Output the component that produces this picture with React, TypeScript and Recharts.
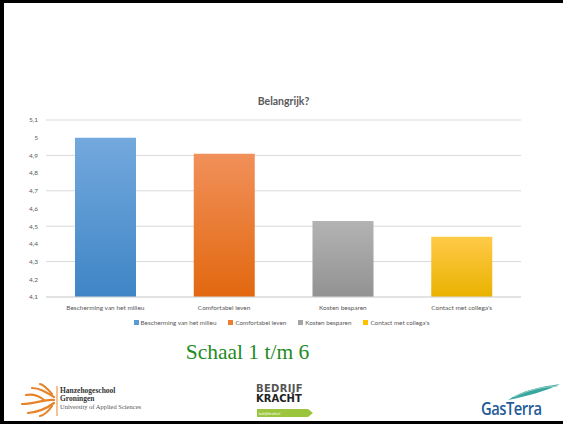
import React from 'react';
import { BarChart, Bar, XAxis, YAxis, CartesianGrid, Legend, Cell } from 'recharts';

// Chart data
const categories = ['Bescherming van het milieu', 'Comfortabel leven', 'Kosten besparen', "Contact met collega's"];
const scores = [5.0, 4.91, 4.53, 4.44];
const yTicks = [4.1, 4.2, 4.3, 4.4, 4.5, 4.6, 4.7, 4.8, 4.9, 5.0, 5.1];

// Office palette: legend swatch, gradient top, gradient bottom
const swatch = ['#5b9bd5', '#ed7d31', '#a5a5a5', '#ffc000'];
const gradTop = ['#73a9dd', '#f1905a', '#b3b3b3', '#ffca48'];
const gradBottom = ['#3f85c6', '#e2680f', '#929292', '#e9b200'];

const data = categories.map((name, i) => ({ name, value: scores[i] }));

const FONT = 'Lato, "Liberation Sans", sans-serif';

const fmt = (v: number) => {
  const s = Number.isInteger(v) ? String(v) : v.toFixed(1);
  return s.replace('.', ',');
};

const LegendContent = () => (
  <div
    style={{
      display: 'flex',
      justifyContent: 'center',
      alignItems: 'center',
      height: 10,
      gap: 12,
      fontFamily: FONT,
      fontSize: 6.3,
      color: '#595959',
    }}
  >
    {categories.map((c, i) => (
      <div key={c} style={{ display: 'flex', alignItems: 'center', gap: 2 }}>
        <span style={{ width: 5, height: 5, background: swatch[i], display: 'inline-block' }} />
        <span>{c}</span>
      </div>
    ))}
  </div>
);

const HanzeLogo = () => (
  <div style={{ position: 'absolute', left: 14, top: 382, width: 150, height: 36 }}>
    <svg width={44} height={36} style={{ position: 'absolute', left: 0, top: 0 }}>
      <g stroke="#e8832a" strokeWidth={2.2} fill="none" strokeLinecap="round">
        <path d="M40 18 C30 17 22 22 8 22" />
        <path d="M40 15 C32 10 26 6 18 6" />
        <path d="M40 21 C32 27 24 30 14 31" />
        <path d="M38 12 C33 6 30 3 26 2" />
        <path d="M38 24 C34 30 30 33 26 34" />
        <path d="M30 18 C24 13 18 12 12 13" />
      </g>
      <line x1={43} y1={4} x2={43} y2={34} stroke="#e8832a" strokeWidth={1} />
    </svg>
    <div style={{ position: 'absolute', left: 46, top: 5, fontFamily: '"Liberation Serif", serif', lineHeight: '8px' }}>
      <div style={{ fontSize: 7.5, fontWeight: 700, color: '#333' }}>Hanzehogeschool</div>
      <div style={{ fontSize: 7.5, fontWeight: 700, color: '#333' }}>Groningen</div>
      <div style={{ fontSize: 6.5, color: '#555', whiteSpace: 'nowrap' }}>University of Applied Sciences</div>
    </div>
  </div>
);

const BedrijfKrachtLogo = () => (
  <div style={{ position: 'absolute', left: 256, top: 384, width: 60, height: 36 }}>
    <div style={{ fontFamily: '"DejaVu Sans", sans-serif', fontWeight: 700, fontSize: 10, lineHeight: '10px', color: '#555', letterSpacing: 0.3 }}>
      BEDRIJF
    </div>
    <div style={{ fontFamily: '"DejaVu Sans", sans-serif', fontWeight: 700, fontSize: 10, lineHeight: '10px', color: '#222' }}>
      KRACHT
    </div>
    <svg width={58} height={8} style={{ position: 'absolute', left: 1, top: 25 }}>
      <polygon points="0,0 51,0 56,4 51,8 0,8" fill="#9bc53d" />
      <text x={2} y={5.5} fontSize={3} fill="#fff" fontFamily={FONT}>
        bedrijfskracht.nl
      </text>
    </svg>
  </div>
);

const GasTerraLogo = () => (
  <div style={{ position: 'absolute', left: 478, top: 382, width: 85, height: 38 }}>
    <svg width={85} height={20} style={{ position: 'absolute', left: 0, top: 0 }}>
      <path d="M30 18 C45 8 62 5 82 2 C68 9 50 14 30 18 Z" fill="#3aa6a0" />
      <path d="M36 15 C50 8 64 5 80 4" stroke="#8fd0c8" strokeWidth={1} fill="none" />
    </svg>
    <div
      style={{
        position: 'absolute',
        left: 3,
        top: 15,
        fontFamily: '"Open Sans", sans-serif',
        fontWeight: 600,
        fontSize: 18,
        lineHeight: '22px',
        letterSpacing: -0.6,
        color: '#1f5b97',
        transform: 'scaleX(0.82)',
        transformOrigin: 'left center',
      }}
    >
      GasTerra
    </div>
  </div>
);

export default function App() {
  return (
    <div style={{ position: 'absolute', left: 0, top: 0, width: 563, height: 424, background: '#fff', overflow: 'hidden' }}>
      {/* slide frame */}
      <div style={{ position: 'absolute', left: 0, top: 0, width: 4, height: 424, background: '#000' }} />
      <div style={{ position: 'absolute', left: 0, top: 0, width: 563, height: 3, background: '#000' }} />
      <div style={{ position: 'absolute', left: 0, top: 421, width: 563, height: 3, background: '#000' }} />

      <div
        style={{
          position: 'absolute',
          left: 0,
          top: 95,
          width: 567,
          textAlign: 'center',
          fontFamily: FONT,
          fontWeight: 700,
          fontSize: 10.5,
          color: '#595959',
        }}
      >
        Belangrijk?
      </div>

      <div style={{ position: 'absolute', left: 0, top: 0 }}>
        <BarChart width={563} height={327} data={data} margin={{ top: 120, right: 42, left: 0, bottom: 0 }}>
          <defs>
            {categories.map((c, i) => (
              <linearGradient key={c} id={`grad${i}`} x1="0" y1="0" x2="0" y2="1">
                <stop offset="0%" stopColor={gradTop[i]} />
                <stop offset="100%" stopColor={gradBottom[i]} />
              </linearGradient>
            ))}
          </defs>
          <CartesianGrid vertical={false} stroke="#d9d9d9" strokeWidth={1} />
          <XAxis
            dataKey="name"
            height={20}
            tickLine={false}
            axisLine={{ stroke: '#d9d9d9' }}
            tick={{ fill: '#595959', fontSize: 6.5, fontFamily: FONT }}
            interval={0}
          />
          <YAxis
            width={46}
            domain={[4.1, 5.1]}
            ticks={yTicks}
            tickFormatter={fmt}
            tickLine={false}
            axisLine={false}
            tick={{ fill: '#595959', fontSize: 6.5, fontFamily: FONT }}
            allowDataOverflow
          />
          <Legend verticalAlign="bottom" content={<LegendContent />} wrapperStyle={{ left: 0, width: 563 }} />
          <Bar dataKey="value" barSize={61} isAnimationActive={false}>
            {data.map((d, i) => (
              <Cell key={d.name} fill={`url(#grad${i})`} />
            ))}
          </Bar>
        </BarChart>
      </div>

      <div
        style={{
          position: 'absolute',
          left: 0,
          top: 340,
          width: 495,
          textAlign: 'center',
          fontFamily: '"Liberation Serif", serif',
          fontSize: 21.5,
          color: '#1f8b24',
        }}
      >
        Schaal 1 t/m 6
      </div>

      <HanzeLogo />
      <BedrijfKrachtLogo />
      <GasTerraLogo />
    </div>
  );
}
